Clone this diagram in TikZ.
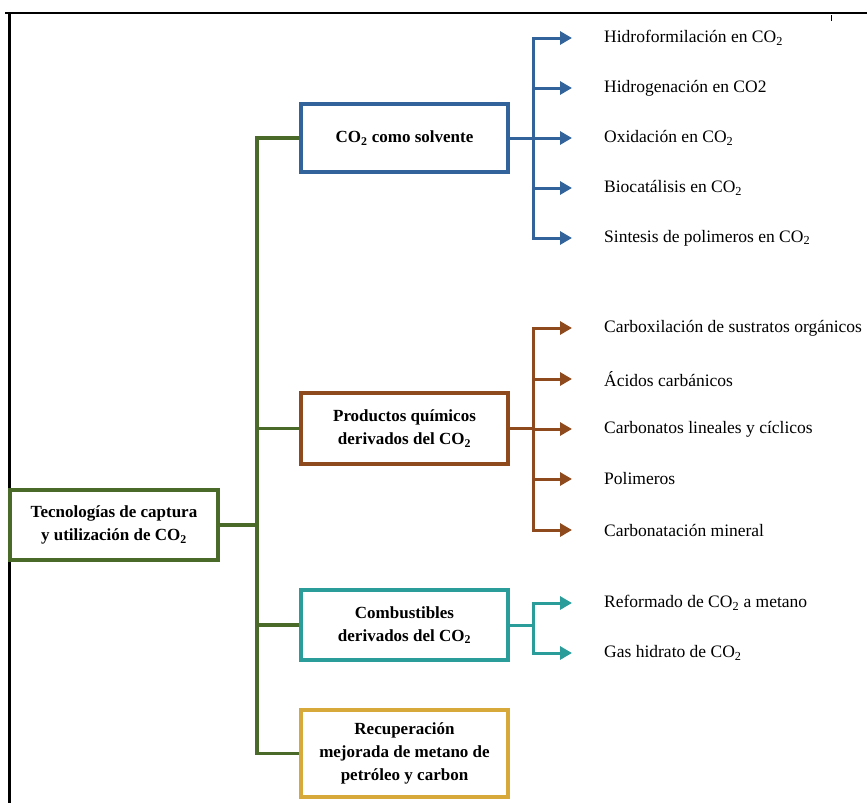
\documentclass[tikz,border=0pt]{standalone}
\usepackage{fontspec}
\setmainfont{Liberation Serif}
\usetikzlibrary{arrows.meta}
\newcommand{\cotwo}{CO\textsubscript{2}}
\definecolor{cgreen}{HTML}{4A6A2A}
\definecolor{cblue}{HTML}{32639A}
\definecolor{cbrown}{HTML}{8E4A1C}
\definecolor{cteal}{HTML}{2A9D9A}
\definecolor{cgold}{HTML}{D6A93A}
\begin{document}
\begin{tikzpicture}[x=1pt,y=-1pt,
  catbox/.style={draw, line width=3.2pt, minimum width=207pt, align=center,
    inner sep=0pt, font=\fontsize{17}{23}\selectfont\bfseries},
  leaf/.style={anchor=west, inner sep=0pt, font=\fontsize{17.5}{20}\selectfont},
  conn/.style={line width=3.4pt},
  arr/.style={line width=3pt, -{Triangle[length=12pt,width=13pt]}}]
\useasboundingbox (0,0) rectangle (867,803);
% frame
\draw[line width=2.4pt] (5,13) -- (867,13);
\draw[line width=3pt] (9,13) -- (9,803);
\draw[line width=1pt] (831,15) -- (831,21);

% main boxes
\node[catbox, draw=cgreen, minimum width=208pt, minimum height=70pt] (root) at (114,525)
  {Tecnologías de captura\\y utilización de \cotwo};
\node[catbox, draw=cblue, minimum height=68pt] (b1) at (404.5,138) {\cotwo{} como solvente};
\node[catbox, draw=cbrown, minimum height=71pt] (b2) at (404.5,428.5) {Productos químicos\\derivados del \cotwo};
\node[catbox, draw=cteal, minimum height=70pt] (b3) at (404.5,625) {Combustibles\\derivados del \cotwo};
\node[catbox, draw=cgold, minimum height=87pt] (b4) at (404.5,753.5) {Recuperación\\mejorada de metano de\\petróleo y carbon};

% trunk
\coordinate (tx) at (257,0);
\draw[conn, cgreen] (b1.west) -| (tx |- b4.west) -- (b4.west);
\draw[conn, cgreen] (root.east) -- (root.east -| tx);
\draw[conn, cgreen] (b2.west) -- (b2.west -| tx);
\draw[conn, cgreen] (b3.west) -- (b3.west -| tx);

% leaves
\node[leaf] (l1) at (604,38) {Hidroformilación en \cotwo};
\node[leaf] (l2) at (604,88) {Hidrogenación en CO2};
\node[leaf] (l3) at (604,138) {Oxidación en \cotwo};
\node[leaf] (l4) at (604,188) {Biocatálisis en \cotwo};
\node[leaf] (l5) at (604,238) {Sintesis de polimeros en \cotwo};

\node[leaf] (m1) at (604,328) {Carboxilación de sustratos orgánicos};
\node[leaf] (m2) at (604,379) {Ácidos carbánicos};
\node[leaf] (m3) at (604,429) {Carbonatos lineales y cíclicos};
\node[leaf] (m4) at (604,479) {Polimeros};
\node[leaf] (m5) at (604,530) {Carbonatación mineral};

\node[leaf] (n1) at (604,603) {Reformado de \cotwo{} a metano};
\node[leaf] (n2) at (604,653) {Gas hidrato de \cotwo};

% blue arrows
\coordinate (bx1) at (533,138);
\draw[arr, -, cblue] (b1.east) -- (bx1);
\foreach \t in {l1,l2,l3,l4,l5}
  \draw[arr, cblue] (bx1) |- ([xshift=-32pt]\t.west);
% brown arrows
\coordinate (bx2) at (533,428.5);
\draw[arr, -, cbrown] (b2.east) -- (bx2);
\foreach \t in {m1,m2,m3,m4,m5}
  \draw[arr, cbrown] (bx2) |- ([xshift=-32pt]\t.west);
% teal arrows
\coordinate (bx3) at (533,625);
\draw[arr, -, cteal] (b3.east) -- (bx3);
\foreach \t in {n1,n2}
  \draw[arr, cteal] (bx3) |- ([xshift=-32pt]\t.west);
\end{tikzpicture}
\end{document}
